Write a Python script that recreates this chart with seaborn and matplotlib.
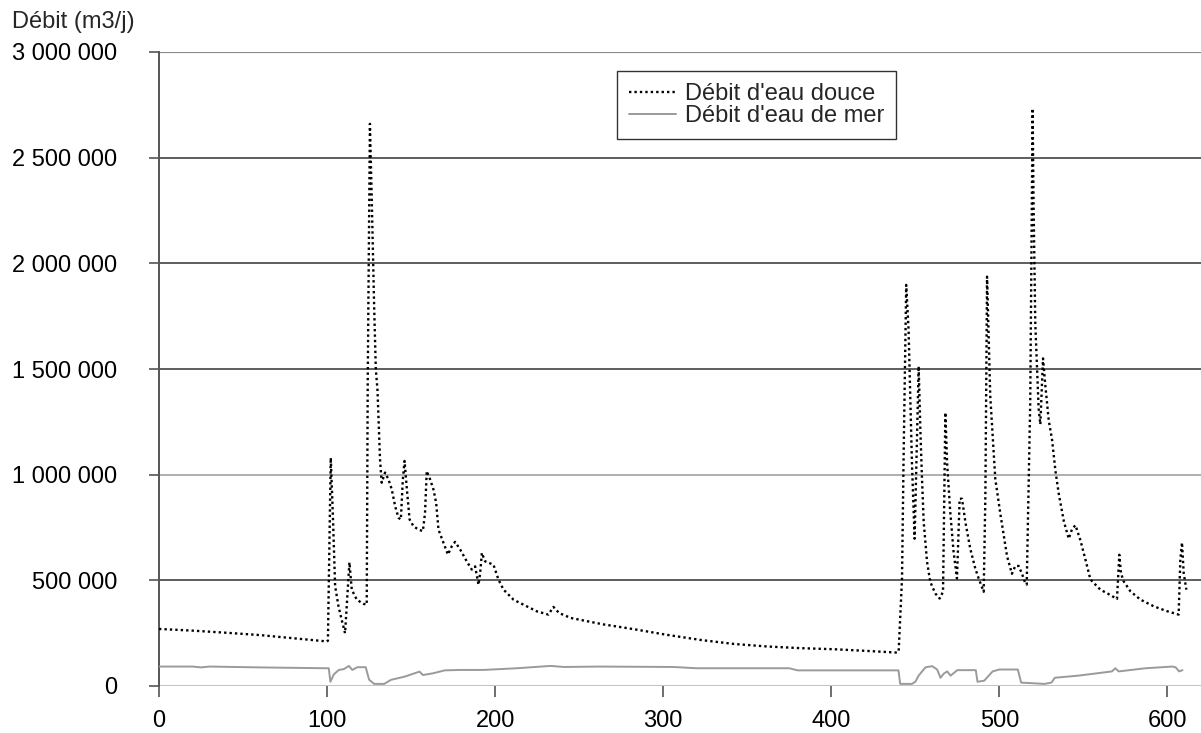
import matplotlib
matplotlib.use("Agg")
import matplotlib.pyplot as plt
import seaborn as sns
import pandas as pd

# ---------------- data ----------------
fresh_day = [0, 20, 40, 60, 80, 99.8, 100.5,
             102.2, 103.4, 104.8, 106.8, 108.7, 110.7, 113.3, 114.7, 117.7, 121.6, 123.6,
             124.2, 125.5, 126.6, 128, 129, 130, 131.5, 132.5, 134.5, 136.5, 138.5, 140.5,
             142.5, 143.9, 145.1, 146.1, 147.5, 149.1, 151.4, 154.4, 157, 158.3, 159.3,
             161.3, 163.3, 164.9, 166.3, 169.3, 171.9, 174.2, 176.2, 179.2, 183.1, 186.1,
             188.1, 190.1, 191.1, 192.1, 194, 199, 202, 205, 211, 218.9, 224.9, 231.7,
             234.7, 238.1, 245, 255, 264, 282.4, 302.3, 322.2, 342, 361.9, 381.7, 401.6,
             421.4, 439.3, 440.1,
             442.1, 443.0, 444.6, 446.0, 447.0, 448.0, 449.0, 449.6, 452.0, 453.0, 454.0,
             455.0, 457.0, 458.9, 461.9, 464.5, 466.5, 467.9, 468.9, 470.8, 472.8, 474.8,
             476.4, 477.8, 479.8, 482.7, 485.7, 487.7, 490.7, 491.7, 492.7, 494.6, 497.6,
             500.6, 504.6, 507.5, 509.5, 511.5, 513.5, 515.5, 516.3, 518.4, 519.8, 520.4,
             521.4, 523.4, 524.4, 526.0, 527.4, 529.4, 531.4, 533.4, 535.4, 538.4, 541.3,
             543.3, 545.3, 548.3, 551.3, 554.2, 560.1, 565.0, 570.0, 571.4, 572.4, 574.0,
             578.0, 583.9, 591.9, 599.8, 606.7, 607.7, 608.7, 609.7, 611.3]
fresh_flow = [270000, 262000, 252000, 241000, 226000, 211000, 214000,
              1080000, 820000, 472000, 377000, 313000, 250000, 585000, 456000, 408000, 389000, 385000,
              1450000, 2660000, 2300000, 1800000, 1500000, 1400000, 1073000, 962000, 1010000, 978000,
              930000, 851000, 796000, 788000, 978000, 1065000, 930000, 788000, 756000, 740000,
              733000, 820000, 1017000, 978000, 930000, 867000, 740000, 677000, 622000, 661000,
              682000, 646000, 590000, 551000, 566000, 479000, 535000, 630000, 590000, 574000,
              503000, 456000, 408000, 377000, 353000, 338000, 374000, 345000, 322000, 306000,
              292000, 269000, 242000, 218000, 199000, 187000, 179000, 174000, 166000, 158000, 164000,
              509000, 1060000, 1898000, 1686000, 1372000, 1058000, 823000, 697000, 1513000,
              1215000, 980000, 776000, 587000, 493000, 438000, 414000, 446000, 1294000, 1058000,
              823000, 634000, 509000, 886000, 886000, 776000, 650000, 556000, 509000, 446000,
              901000, 1937000, 1372000, 980000, 815000, 614000, 531000, 568000, 568000, 531000,
              485000, 480000, 1348000, 2733000, 2265000, 1715000, 1311000, 1238000, 1550000,
              1420000, 1257000, 1164000, 1017000, 908000, 779000, 697000, 743000, 761000, 688000,
              596000, 504000, 456000, 435000, 412000, 621000, 534000, 495000, 448000, 409000,
              377000, 354000, 338000, 597000, 679000, 534000, 456000]

sea_day = [0, 20, 25, 30, 60, 99, 101, 102, 104, 107, 110, 113, 115, 118, 123, 125, 128, 134,
           138, 146, 152, 155, 157, 163, 170, 179, 193, 213, 233, 241, 262, 306, 320, 375, 380,
           440, 441, 448, 450, 452, 456, 460, 463, 465, 467, 469, 471, 475, 486, 487, 491, 496,
           500, 511, 513, 527, 531, 533, 547, 567, 569, 571, 587, 603, 605, 607, 609]
sea_flow = [92000, 92000, 88000, 92000, 88000, 84000, 84000, 20000, 55000, 76000, 80000, 95000,
            76000, 89000, 89000, 30000, 10000, 10000, 29000, 44000, 60000, 68000, 52000, 60000,
            74000, 76000, 76000, 84000, 95000, 90000, 92000, 90000, 84000, 84000, 74000, 74000,
            10000, 10000, 20000, 49000, 88000, 94000, 78000, 39000, 59000, 69000, 49000, 75000,
            75000, 20000, 25000, 69000, 78000, 78000, 16000, 10000, 16000, 39000, 49000, 69000,
            84000, 69000, 84000, 92000, 88000, 69000, 75000]

series_names = ["Débit d'eau douce", "Débit d'eau de mer"]
y_label = "Débit (m3/j)"
x_ticks = [0, 100, 200, 300, 400, 500, 600]
y_ticks = [0, 500000, 1000000, 1500000, 2000000, 2500000, 3000000]
y_tick_labels = ["0", "500 000", "1 000 000", "1 500 000", "2 000 000", "2 500 000", "3 000 000"]

# ---------------- figure ----------------
sns.set_theme(style="white")
plt.rcParams["font.family"] = ["Liberation Sans", "DejaVu Sans"]

fig = plt.figure(figsize=(12.01, 7.33), dpi=100)
ax = fig.add_axes([159 / 1201, 1 - 686 / 733, 1 - 159 / 1201, (686 - 52) / 733])

fresh_df = pd.DataFrame({"day": fresh_day, "flow": fresh_flow})
sea_df = pd.DataFrame({"day": sea_day, "flow": sea_flow})

sns.lineplot(data=fresh_df, x="day", y="flow", ax=ax, color="black", lw=1.7,
             linestyle=(0, (1.0, 1.3)), label=series_names[0], zorder=3)
sns.lineplot(data=sea_df, x="day", y="flow", ax=ax, color="#9a9a9a", lw=1.4,
             label=series_names[1], zorder=3)

ax.set_xlim(0, 620)
ax.set_ylim(0, 3000000)
ax.set_xticks(x_ticks)
ax.set_xticklabels([str(t) for t in x_ticks])
ax.set_yticks(y_ticks)
ax.set_yticklabels(y_tick_labels)
ax.set_xlabel("")
ax.set_ylabel("")

# gridlines (style per level, mimicking the scanned original)
ax.set_axisbelow(True)
ax.yaxis.grid(True)
grid_style = {0: ("#c4c4c4", 2.2), 500000: ("#505050", 1.3), 1000000: ("#a8a8a8", 1.3),
              1500000: ("#505050", 1.3), 2000000: ("#505050", 1.3), 2500000: ("#505050", 1.3),
              3000000: ("#8c8c8c", 1.6)}
for tick_val, gl in zip(y_ticks, ax.get_ygridlines()):
    c, w = grid_style[tick_val]
    gl.set_color(c)
    gl.set_linewidth(w)
    gl.set_linestyle("-")

for side in ["right", "bottom", "top"]:
    ax.spines[side].set_visible(False)
ax.spines["left"].set_color("#555555")
ax.spines["left"].set_linewidth(1.4)

ax.tick_params(axis="x", direction="out", length=8, width=1.2, color="#555555",
               labelsize=17, pad=9, labelcolor="black", bottom=True)
ax.tick_params(axis="y", direction="out", length=7, width=1.2, color="#555555",
               labelsize=17, pad=23, labelcolor="black", left=True)

fig.text(12 / 1201, 1 - 22 / 733, y_label, fontsize=17, ha="left", va="center")

leg = ax.legend(loc="upper center", bbox_to_anchor=(0.5735, 0.97), fontsize=17,
                frameon=True, fancybox=False, shadow=False, framealpha=1,
                borderpad=0.5, handlelength=2.0, handletextpad=0.35, labelspacing=0.0,
                borderaxespad=0)
leg.get_frame().set_edgecolor("#333333")
leg.get_frame().set_linewidth(1.0)

fig.savefig("out.png", dpi=100)
